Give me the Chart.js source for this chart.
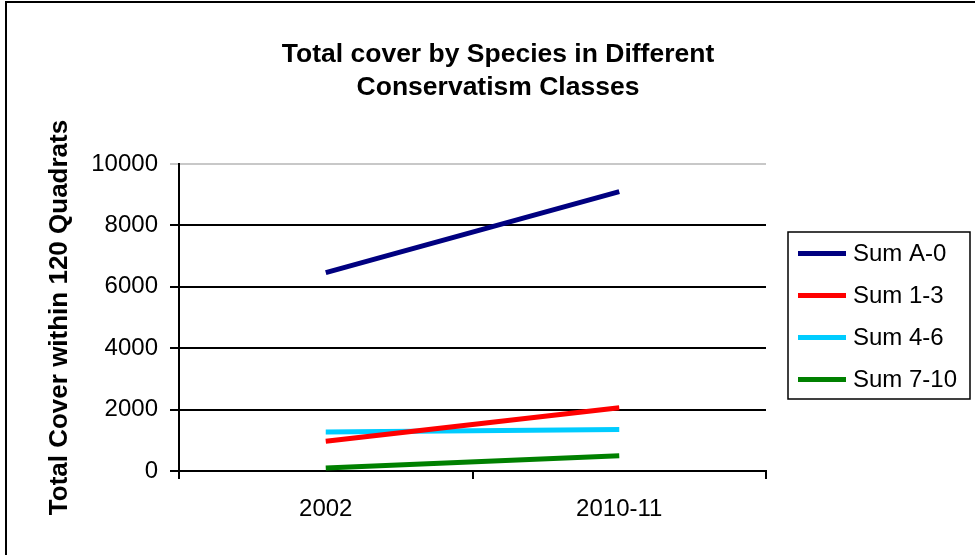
<!DOCTYPE html>
<html>
<head>
<meta charset="utf-8">
<title>Total cover by Species in Different Conservatism Classes</title>
<script src="https://cdn.jsdelivr.net/npm/chart.js@4"></script>
<style>
  html, body { margin: 0; padding: 0; background: #ffffff; }
  #wrap { width: 975px; height: 555px; position: relative; }
</style>
</head>
<body>
<div id="wrap"><canvas id="chart" width="975" height="555"></canvas></div>
<script>
// Survey periods
const periods = ['2002', '2010-11'];

// Total cover summed per conservatism class
const sumA0 = [6460, 9100];
const sum13 = [970, 2060];
const sum46 = [1270, 1350];
const sum710 = [100, 500];

const seriesNames = ['Sum A-0', 'Sum 1-3', 'Sum 4-6', 'Sum 7-10'];
const seriesColors = ['#000080', '#ff0000', '#00ccff', '#008000'];

const yTicks = [0, 2000, 4000, 6000, 8000, 10000];

const titleLines = ['Total cover by Species in Different', 'Conservatism Classes'];

const FONT = "'Liberation Sans', Arial, sans-serif";

// Frame around the chart (top and left edges) and the two-line title
const framePlugin = {
  id: 'frame',
  beforeDraw(chart) {
    const ctx = chart.ctx;
    ctx.save();
    ctx.fillStyle = '#ffffff';
    ctx.fillRect(0, 0, chart.width, chart.height);
    ctx.strokeStyle = '#000000';
    ctx.lineWidth = 2;
    ctx.beginPath();
    ctx.moveTo(6, chart.height);
    ctx.lineTo(6, 2);
    ctx.lineTo(chart.width, 2);
    ctx.stroke();

    ctx.fillStyle = '#000000';
    ctx.font = 'bold 26.5px ' + FONT;
    ctx.textAlign = 'center';
    ctx.textBaseline = 'alphabetic';
    titleLines.forEach((line, i) => ctx.fillText(line, 498, 62 + i * 33));
    ctx.restore();
  }
};

// Boxed legend on the right of the plot
const boxLegendPlugin = {
  id: 'boxLegend',
  afterDraw(chart) {
    const ctx = chart.ctx;
    const box = { x: 788, y: 232, w: 182, h: 167 };
    ctx.save();
    ctx.strokeStyle = '#000000';
    ctx.lineWidth = 1.5;
    ctx.strokeRect(box.x, box.y, box.w, box.h);
    ctx.font = '24px ' + FONT;
    ctx.textBaseline = 'middle';
    ctx.textAlign = 'left';
    chart.data.datasets.forEach((ds, i) => {
      const cy = 253.5 + i * 42;
      ctx.strokeStyle = ds.borderColor;
      ctx.lineWidth = 5;
      ctx.beginPath();
      ctx.moveTo(798, cy);
      ctx.lineTo(846, cy);
      ctx.stroke();
      ctx.fillStyle = '#000000';
      ctx.fillText(ds.label, 853, cy + 1);
    });
    ctx.restore();
  }
};

const datasets = [sumA0, sum13, sum46, sum710].map((values, i) => ({
  label: seriesNames[i],
  data: values,
  borderColor: seriesColors[i],
  backgroundColor: seriesColors[i],
  borderWidth: 5,
  pointRadius: 0,
  pointHoverRadius: 0,
  tension: 0,
  fill: false
}));

new Chart(document.getElementById('chart'), {
  type: 'line',
  data: { labels: periods, datasets },
  plugins: [framePlugin, boxLegendPlugin],
  options: {
    responsive: false,
    animation: false,
    events: [],
    layout: { padding: { top: 164, right: 209, bottom: 0, left: 0 } },
    plugins: {
      legend: { display: false },
      tooltip: { enabled: false },
      title: { display: false }
    },
    scales: {
      x: {
        type: 'category',
        offset: true,
        grid: {
          offset: true,
          drawOnChartArea: false,
          drawTicks: true,
          tickLength: 8,
          color: '#000000',
          lineWidth: 2
        },
        border: { display: true, color: '#000000', width: 2 },
        ticks: {
          color: '#000000',
          font: { family: FONT, size: 24 },
          padding: 16,
          maxRotation: 0
        },
        afterFit(scale) { scale.height = 84; }
      },
      y: {
        min: 0,
        max: 10000,
        afterBuildTicks(scale) { scale.ticks = yTicks.map(v => ({ value: v })); },
        grid: {
          drawOnChartArea: true,
          drawTicks: true,
          tickLength: 9,
          color: ctx => (ctx.tick && ctx.tick.value === 10000 ? '#c8c8c8' : '#000000'),
          lineWidth: 2
        },
        border: { display: true, color: '#000000', width: 2 },
        ticks: {
          color: '#000000',
          font: { family: FONT, size: 24 },
          padding: 12,
          callback: v => String(v)
        },
        title: {
          display: true,
          text: 'Total Cover within 120 Quadrats',
          color: '#000000',
          font: { family: FONT, size: 26, weight: 'bold', lineHeight: 1.2 },
          padding: { top: 44, bottom: 0 }
        },
        afterFit(scale) { scale.width = 179; }
      }
    }
  }
});
</script>
</body>
</html>
